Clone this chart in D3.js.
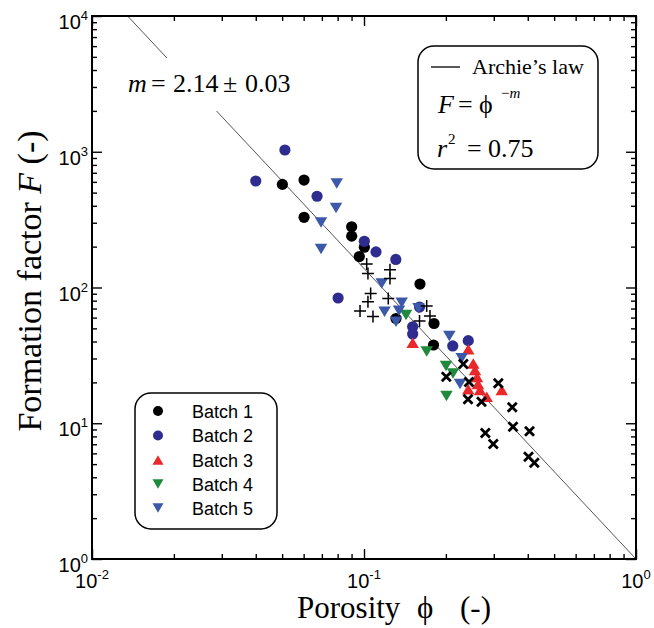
<!DOCTYPE html>
<html>
<head>
<meta charset="utf-8">
<script src="https://cdn.jsdelivr.net/npm/d3@7"></script>
<style>
  body { margin: 0; background: #fff; }
  text { fill: #000; }
</style>
</head>
<body>
<svg id="chart" width="654" height="628"></svg>
<script>
// ---- data: porosity phi (-) and formation factor F (-) ----
const batch1Phi = [0.0501, 0.0602, 0.0602, 0.0901, 0.0901, 0.1003, 0.0961, 0.1606, 0.1311, 0.1809, 0.1801];
const batch1F   = [575, 619, 329, 280, 239, 198, 169, 106, 59.1, 54.3, 37.7];

const batch2Phi = [0.040, 0.0512, 0.0672, 0.1003, 0.1107, 0.1309, 0.0803, 0.160, 0.151, 0.151, 0.212, 0.2417];
const batch2F   = [609, 1030, 470, 219, 183, 161, 83.7, 71.8, 51.4, 45.4, 37.1, 40.6];

const batch3Phi = [0.151, 0.2417, 0.2522, 0.2559, 0.2603, 0.2625, 0.2417, 0.267, 0.2826, 0.3209];
const batch3F   = [39.2, 35.1, 27.6, 24.7, 21.9, 19.5, 17.8, 17.6, 15.7, 17.6];

const batch4Phi = [0.1427, 0.170, 0.2002, 0.2124, 0.201];
const batch4F   = [62.7, 33.7, 26.4, 23.3, 15.9];

const batch5Phi = [0.0794, 0.0789, 0.0695, 0.0695, 0.1162, 0.119, 0.1376, 0.1345, 0.1311, 0.1586, 0.2059, 0.2287, 0.2254];
const batch5F   = [584, 385, 301, 192, 107, 66.3, 77.3, 67.5, 56, 70.3, 43.9, 30.1, 19.5];

// additional samples (not in the batch legend)
const plusPhi = [0.1023, 0.1034, 0.1246, 0.1246, 0.1058, 0.1034, 0.1228, 0.0967, 0.1079, 0.170, 0.1748, 0.160];
const plusF   = [149, 127, 135, 116.5, 90.3, 78.6, 83, 67.1, 61.1, 73.1, 61.7, 56.6];

const crossPhi = [0.2318, 0.2007, 0.2432, 0.3117, 0.2412, 0.2704, 0.3508, 0.353, 0.406, 0.2793, 0.2988, 0.4026, 0.4228];
const crossF   = [27.3, 22.0, 20.1, 19.7, 15.0, 14.4, 13.1, 9.43, 8.72, 8.48, 7.03, 5.67, 5.12];

// Archie's law exponent
const archieM = 2.14;
const archieMErr = 0.03;
const archieR2 = 0.75;

// axis decades
const xExponents = [-2, -1, 0];
const yExponents = [0, 1, 2, 3, 4];

const batchNames = ["Batch 1", "Batch 2", "Batch 3", "Batch 4", "Batch 5"];

// ---- layout ----
const svg = d3.select("#chart");
const plotL = 92, plotR = 636, plotT = 16, plotB = 559;

const x = d3.scaleLog().domain([1e-2, 1]).range([plotL, plotR]);
const y = d3.scaleLog().domain([1, 1e4]).range([plotB, plotT]);

const SANS = "'Liberation Sans', Arial, sans-serif";
const SERIF = "'Liberation Serif', 'Times New Roman', serif";

// ---- ticks (inward, on all four sides) ----
function minorTicks(lo, hi) {
  const out = [];
  for (let e = lo; e < hi; e++) for (let k = 2; k <= 9; k++) out.push(k * Math.pow(10, e));
  return out;
}
const xMajor = xExponents.map(e => Math.pow(10, e));
const yMajor = yExponents.map(e => Math.pow(10, e));
const xMinor = minorTicks(-2, 0);
const yMinor = minorTicks(0, 4);

function addAxis(axisFn, scale, vals, size, transform) {
  const g = svg.append("g").attr("transform", transform)
    .call(axisFn(scale).tickValues(vals).tickSize(-size).tickFormat(""));
  g.select(".domain").remove();
  g.selectAll(".tick line").attr("stroke", "#000").attr("stroke-width", 1.4);
}
addAxis(d3.axisBottom, x, xMajor, 10, `translate(0,${plotB})`);
addAxis(d3.axisBottom, x, xMinor, 5, `translate(0,${plotB})`);
addAxis(d3.axisTop, x, xMajor, 10, `translate(0,${plotT})`);
addAxis(d3.axisTop, x, xMinor, 5, `translate(0,${plotT})`);
addAxis(d3.axisLeft, y, yMajor, 10, `translate(${plotL},0)`);
addAxis(d3.axisLeft, y, yMinor, 5, `translate(${plotL},0)`);
addAxis(d3.axisRight, y, yMajor, 10, `translate(${plotR},0)`);
addAxis(d3.axisRight, y, yMinor, 5, `translate(${plotR},0)`);

// ---- Archie's law line F = phi^-m ----
const phiStart = Math.pow(1e4, -1 / archieM);
const lineGen = d3.line().x(d => x(d[0])).y(d => y(d[1]));
svg.append("path")
  .datum([[phiStart, Math.pow(phiStart, -archieM)], [1, 1]])
  .attr("d", lineGen)
  .attr("fill", "none")
  .attr("stroke", "#555")
  .attr("stroke-width", 1);

// label for m, on a white patch that interrupts the line
svg.append("rect").attr("x", 118).attr("y", 58).attr("width", 180).attr("height", 53).attr("fill", "#fff");
const mLabel = svg.append("text").attr("y", 92).attr("font-family", SERIF).attr("font-size", 26);
mLabel.append("tspan").attr("x", 128).attr("font-style", "italic").text("m");
mLabel.append("tspan").attr("x", 151).text("=");
mLabel.append("tspan").attr("x", 173).text(archieM.toFixed(2));
mLabel.append("tspan").attr("x", 223).text("±");
mLabel.append("tspan").attr("x", 245).text(archieMErr.toFixed(2));

// ---- markers ----
function triPath(w, h, down) {
  const s = down ? -1 : 1;
  return `M0,${-s * h / 2}L${w / 2},${s * h / 2}L${-w / 2},${s * h / 2}Z`;
}
const symCircle = d3.symbol().type(d3.symbolCircle).size(Math.PI * 5.6 * 5.6)();
const upTri = triPath(12.5, 10.5, false);
const downTri = triPath(12.5, 10.5, true);

const series = [
  { phi: batch1Phi, F: batch1F, path: symCircle, color: "#000000" },
  { phi: batch2Phi, F: batch2F, path: symCircle, color: "#2e2d8f" },
  { phi: batch3Phi, F: batch3F, path: upTri, color: "#e8282a" },
  { phi: batch4Phi, F: batch4F, path: downTri, color: "#1f8a3b" },
  { phi: batch5Phi, F: batch5F, path: downTri, color: "#3c58a8" }
];

series.forEach(s => {
  svg.append("g").selectAll("path")
    .data(d3.zip(s.phi, s.F))
    .join("path")
    .attr("transform", d => `translate(${x(d[0])},${y(d[1])})`)
    .attr("d", s.path)
    .attr("fill", s.color);
});

svg.append("g").selectAll("path")
  .data(d3.zip(plusPhi, plusF))
  .join("path")
  .attr("transform", d => `translate(${x(d[0])},${y(d[1])})`)
  .attr("d", "M-6,0H6M0,-6V6")
  .attr("stroke", "#000").attr("stroke-width", 1.5).attr("fill", "none");

svg.append("g").selectAll("path")
  .data(d3.zip(crossPhi, crossF))
  .join("path")
  .attr("transform", d => `translate(${x(d[0])},${y(d[1])})`)
  .attr("d", "M-4.5,-4.5L4.5,4.5M-4.5,4.5L4.5,-4.5")
  .attr("stroke", "#000").attr("stroke-width", 2.8).attr("fill", "none");

// ---- frame ----
svg.append("rect")
  .attr("x", plotL).attr("y", plotT)
  .attr("width", plotR - plotL).attr("height", plotB - plotT)
  .attr("fill", "none").attr("stroke", "#000").attr("stroke-width", 2);

// ---- tick labels ----
function powerLabel(sel, exp) {
  sel.append("tspan").text("10");
  sel.append("tspan").attr("dy", -9).attr("font-size", 13).text(String(exp));
}
xExponents.forEach(e => {
  const t = svg.append("text")
    .attr("x", x(Math.pow(10, e))).attr("y", 588)
    .attr("text-anchor", "middle")
    .attr("font-family", SANS).attr("font-size", 20);
  powerLabel(t, e);
});
yExponents.forEach(e => {
  const t = svg.append("text")
    .attr("x", 88).attr("y", y(Math.pow(10, e)) + 13)
    .attr("text-anchor", "end")
    .attr("font-family", SANS).attr("font-size", 20);
  powerLabel(t, e);
});

// ---- axis titles ----
const xt = svg.append("text")
  .attr("y", 618)
  .attr("font-family", SERIF).attr("font-size", 31);
xt.append("tspan").attr("x", 297).text("Porosity");
xt.append("tspan").attr("x", 417).text("\u03D5");
xt.append("tspan").attr("x", 460).text("(-)");

const yt = svg.append("text")
  .attr("transform", "translate(41,281) rotate(-90)")
  .attr("text-anchor", "middle")
  .attr("font-family", SERIF).attr("font-size", 34);
yt.append("tspan").text("Formation factor ");
yt.append("tspan").attr("font-style", "italic").text("F");
yt.append("tspan").text(" (-)");

// ---- Archie legend box ----
svg.append("rect")
  .attr("x", 418).attr("y", 46).attr("width", 180).attr("height", 123)
  .attr("rx", 16).attr("fill", "#fff").attr("stroke", "#000").attr("stroke-width", 1.5);
svg.append("line")
  .attr("x1", 431).attr("x2", 460).attr("y1", 67).attr("y2", 67)
  .attr("stroke", "#000").attr("stroke-width", 1.3);
svg.append("text")
  .attr("x", 472).attr("y", 74)
  .attr("font-family", SERIF).attr("font-size", 22)
  .text("Archie\u2019s law");

const eq = svg.append("text").attr("y", 113).attr("font-family", SERIF).attr("font-size", 26);
eq.append("tspan").attr("x", 438).attr("font-style", "italic").text("F");
eq.append("tspan").attr("x", 458).text("=");
eq.append("tspan").attr("x", 479).text("\u03D5");
eq.append("tspan").attr("x", 501).attr("dy", -15).attr("font-size", 15).text("\u2212");
eq.append("tspan").attr("font-size", 15).attr("font-style", "italic").text("m");

const r2 = svg.append("text").attr("y", 157).attr("font-family", SERIF).attr("font-size", 26);
r2.append("tspan").attr("x", 437).attr("font-style", "italic").text("r");
r2.append("tspan").attr("x", 448).attr("dy", -13).attr("font-size", 15).text("2");
r2.append("tspan").attr("x", 467).attr("dy", 13).text("=");
r2.append("tspan").attr("x", 488).text(archieR2.toFixed(2));

// ---- batch legend box ----
svg.append("rect")
  .attr("x", 135).attr("y", 393).attr("width", 142).attr("height", 136)
  .attr("rx", 16).attr("fill", "#fff").attr("stroke", "#000").attr("stroke-width", 1.5);

const legendSym = [
  symCircle, symCircle, triPath(11, 9.5, false), triPath(11, 9.5, true), triPath(11, 9.5, true)
];
const legendRows = [411, 435.5, 460, 484, 508];
batchNames.forEach((name, i) => {
  svg.append("path")
    .attr("transform", `translate(158,${legendRows[i]})`)
    .attr("d", i < 2 ? d3.symbol().type(d3.symbolCircle).size(Math.PI * 5 * 5)() : legendSym[i])
    .attr("fill", series[i].color);
  svg.append("text")
    .attr("x", 192).attr("y", legendRows[i] + 6.5)
    .attr("font-family", SANS).attr("font-size", 18)
    .text(name);
});
</script>
</body>
</html>
